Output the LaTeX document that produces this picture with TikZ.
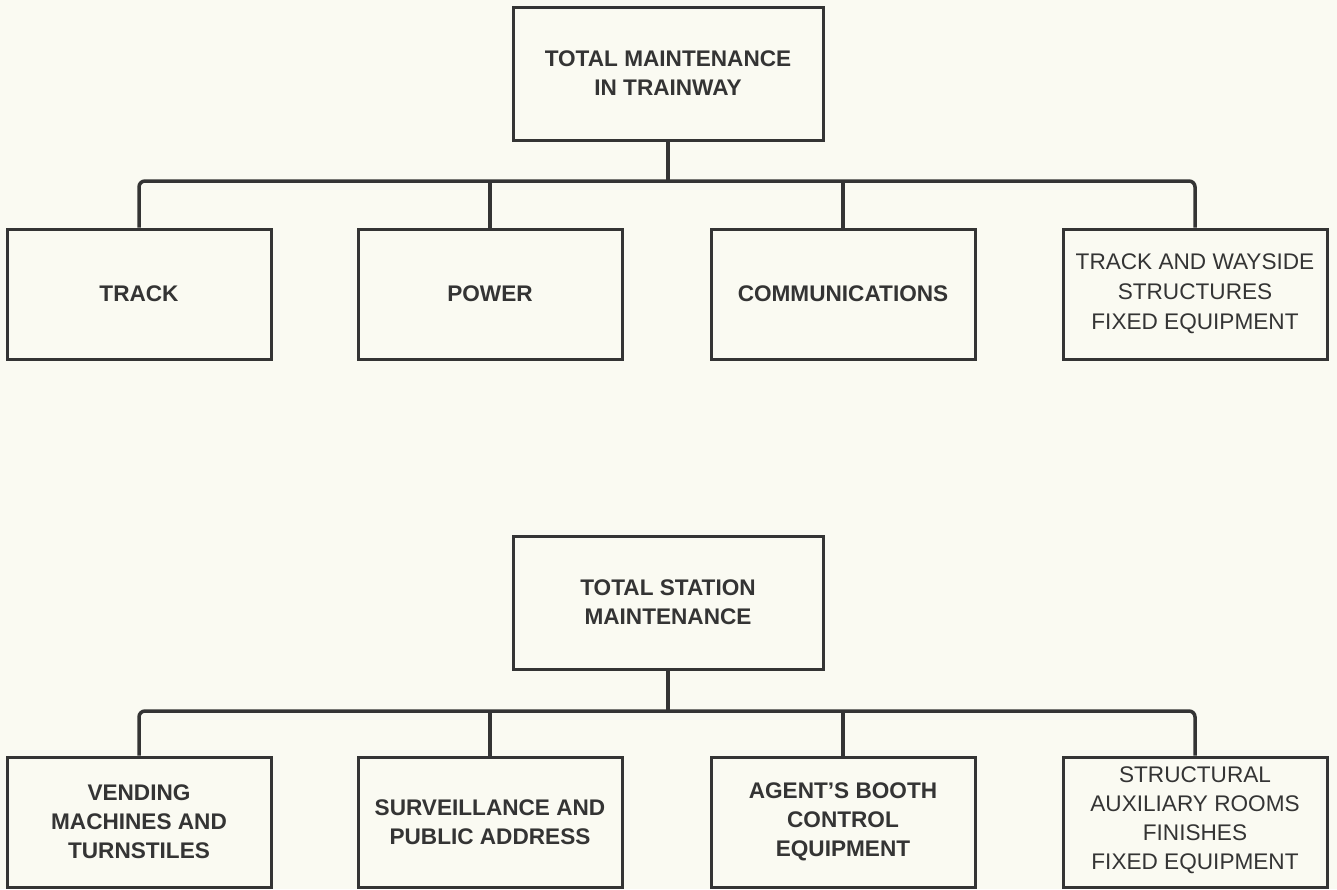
\documentclass[tikz,border=0pt]{standalone}
\usepackage{fontspec}
\setmainfont{Liberation Sans}
\definecolor{paper}{RGB}{250,250,242}
\definecolor{ink}{RGB}{52,52,52}
\begin{document}
\begin{tikzpicture}[x=0.5pt,y=-0.5pt,
  every node/.style={inner sep=0pt, align=center, text=ink},
  headbox/.style={draw=ink, line width=1.5pt, minimum width=155pt, minimum height=66.5pt,
    font=\fontsize{11.3}{14.5}\selectfont\bfseries},
  leafbox/.style={draw=ink, line width=1.5pt, minimum width=132pt, minimum height=65pt,
    font=\fontsize{11.3}{14.5}\selectfont\bfseries},
  plainleaf/.style={leafbox, font=\fontsize{11.3}{15}\selectfont},
  link/.style={draw=ink, line width=1.75pt},
  buslink/.style={link, rounded corners=3pt}]
% page
\fill[paper] (0,0) rectangle (1337,889);
\useasboundingbox (0,0) rectangle (1337,889);

% ---- trainway maintenance tree ----
\node[headbox] (ra) at (668,73.5) {TOTAL MAINTENANCE\\IN TRAINWAY};
\coordinate (busa) at (668,181);
\node[leafbox]  (a1) at (139,294)  {TRACK};
\node[leafbox]  (a2) at (490,294)  {POWER};
\node[leafbox]  (a3) at (843,294)  {COMMUNICATIONS};
\node[plainleaf] (a4) at (1195,294) {TRACK AND WAYSIDE\\STRUCTURES\\FIXED EQUIPMENT};

\draw[link] (ra.south) -- (ra.south |- busa);
\draw[buslink] (a1.north) -- (a1.north |- busa) -- (a4.north |- busa) -- (a4.north);
\draw[link] (a2.north) -- (a2.north |- busa);
\draw[link] (a3.north) -- (a3.north |- busa);

% ---- station maintenance tree ----
\node[headbox] (rb) at (668,602.5) {TOTAL STATION\\MAINTENANCE};
\coordinate (busb) at (668,711);
\node[leafbox]  (b1) at (139,822)  {VENDING\\MACHINES AND\\TURNSTILES};
\node[leafbox]  (b2) at (490,822)  {SURVEILLANCE AND\\PUBLIC ADDRESS};
\node[leafbox]  (b3) at (843,822)  {AGENT'S BOOTH\\CONTROL\\EQUIPMENT};
\node[plainleaf, font=\fontsize{11.3}{14.5}\selectfont, text depth=4pt] (b4) at (1195,822)
  {STRUCTURAL\\AUXILIARY ROOMS\\FINISHES\\FIXED EQUIPMENT};

\draw[link] (rb.south) -- (rb.south |- busb);
\draw[buslink] (b1.north) -- (b1.north |- busb) -- (b4.north |- busb) -- (b4.north);
\draw[link] (b2.north) -- (b2.north |- busb);
\draw[link] (b3.north) -- (b3.north |- busb);
\end{tikzpicture}
\end{document}
